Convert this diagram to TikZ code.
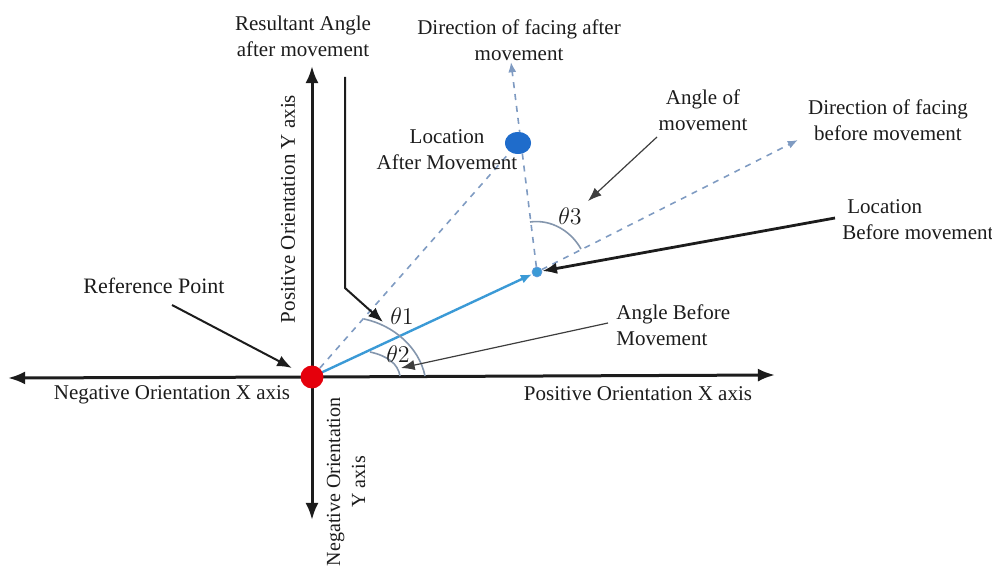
\documentclass[tikz,border=0pt]{standalone}
\usepackage{fontspec}
\setmainfont{Liberation Serif}
\usetikzlibrary{arrows.meta,positioning,calc,shapes.geometric}
\definecolor{Ink}{HTML}{1C1C1C}
\definecolor{RedDot}{HTML}{E5000C}
\definecolor{SkyBlue}{HTML}{3B9AD6}
\definecolor{DeepBlue}{HTML}{1F6CCB}
\definecolor{DashBlue}{HTML}{7F9BC2}
\definecolor{ArcGrey}{HTML}{8496AD}
\tikzset{
  axis/.style={-{Latex[length=3mm,width=2.3mm]},line width=1.5pt,draw=Ink},
  pointer/.style={-{Latex[length=2.6mm,width=2mm]},line width=1pt,draw=Ink},
  thinpointer/.style={-{Latex[length=2.4mm,width=1.8mm]},line width=0.6pt,draw=Ink!85},
  facing/.style={-{Latex[length=1.8mm,width=1.4mm]},dashed,line width=0.8pt,draw=DashBlue},
  anglearc/.style={draw=ArcGrey,line width=0.8pt},
  txt/.style={font=\fontsize{10.5}{13}\selectfont,align=center,text=Ink,inner sep=1pt},
  theta/.style={font=\fontsize{12}{14}\selectfont,text=Ink,inner sep=1pt}
}

\begin{document}
\begin{tikzpicture}[x=0.5pt,y=-0.5pt]
  \useasboundingbox (0,0) rectangle (992,572);
  % axes through the reference point
  \coordinate (o) at (312,377);
  \coordinate (xneg) at (8,378);
  \coordinate (xpos) at (775,375);
  \coordinate (ypos) at (312,66);
  \coordinate (yneg) at (312,520);
  \draw[axis] (o) -- (xneg);
  \draw[axis] (o) -- (xpos);
  \draw[axis] (o) -- (ypos);
  \draw[axis] (o) -- (yneg);
  % locations
  \node[circle,fill=SkyBlue,draw=DeepBlue!70,line width=0.3pt,minimum size=5pt,inner sep=0] (locb) at (537,272) {};
  \node[ellipse,fill=DeepBlue,minimum width=13pt,minimum height=11pt,inner sep=0] (loca) at (518,143) {};
  \coordinate (faceafter) at (511,62);
  \coordinate (facebefore) at (798,140);
  \draw[facing,-] (o) -- (loca);
  \draw[facing] (locb) -- (faceafter);
  \draw[facing] (locb) -- (facebefore);
  \draw[-{Latex[length=2mm,width=1.6mm]},line width=1.2pt,draw=SkyBlue] (o) -- (locb);
  \node[ellipse,fill=DeepBlue,minimum width=13pt,minimum height=11pt,inner sep=0] at (loca) {};
  \node[circle,fill=RedDot,minimum size=11.5pt,inner sep=0] (ref) at (o) {};
  % angles
  \draw[anglearc] (364,319) .. controls (393,325) and (419,347) .. (425,376);
  \draw[anglearc] (370,352) .. controls (388,356) and (398,364) .. (400,376);
  \draw[anglearc] (530,222) .. controls (551,219) and (571,231) .. (581,249);
  \node[theta] (t1) at (402,316) {$\theta1$};
  \node[theta] (t2) at (398,354) {$\theta2$};
  \node[theta] (t3) at (570,216) {$\theta3$};
  % labels
  \node[txt,font=\fontsize{11}{13}\selectfont] (refpt) at (154,286) {Reference Point};
  \node[txt] (negx) at (172,395) {Negative Orientation X axis};
  \node[txt] (posx) at (638,394) {Positive Orientation X axis};
  \node[txt,rotate=90] (posy) at (288,209) {Positive Orientation Y axis};
  \node[txt,rotate=90,font=\fontsize{10}{12.5}\selectfont] (negy) at (346,482) {Negative Orientation\\Y axis};
  \node[txt] (resang) at (303,36) {Resultant Angle\\after movement};
  \node[txt] (aftxt) at (519,40) {Direction of facing after\\movement};
  \node[txt] (latxt) at (447,150) {Location\\After Movement};
  \node[txt] (amtxt) at (703,110) {Angle of\\movement};
  \node[txt] (bftxt) at (888,120) {Direction of facing\\before movement};
  \node[txt,align=left,anchor=west] (lbtxt) at (840,220) {\hspace{2.5pt}Location\\Before movement};
  \node[txt,align=left,anchor=west] (abtxt) at (614,325) {Angle Before\\Movement};
  % pointers
  \coordinate (refs) at (172,305);
  \coordinate (reft) at (292,368);
  \draw[pointer] (refs) -- (reft);
  \coordinate (resA) at (345,77);
  \coordinate (resB) at (345,288);
  \coordinate (resT) at (383,322);
  \draw[pointer] (resA) -- (resB) -- (resT);
  \coordinate (abs) at (608,323);
  \coordinate (abt) at (401,368);
  \draw[thinpointer] (abs) -- (abt);
  \coordinate (ams) at (657,137);
  \coordinate (amt) at (588,201);
  \draw[thinpointer] (ams) -- (amt);
  \coordinate (lbs) at (835,218);
  \draw[pointer,line width=1.4pt] (lbs) -- (locb);
\end{tikzpicture}
\end{document}
